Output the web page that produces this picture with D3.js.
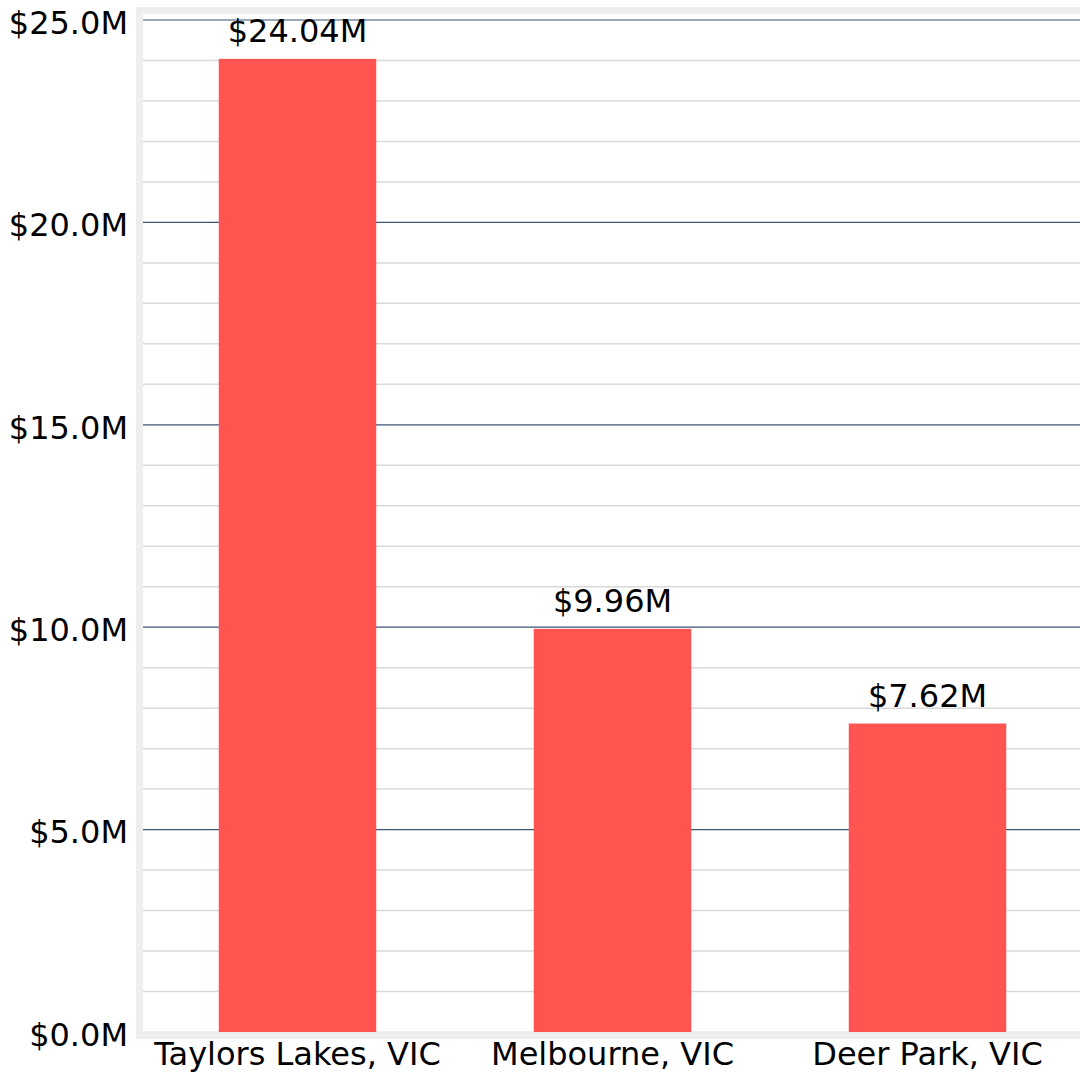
<!DOCTYPE html>
<html>
<head>
<meta charset="utf-8">
<script src="https://cdn.jsdelivr.net/npm/d3@7"></script>
<style>
  body { margin: 0; background: #fff; }
  text { font-family: "DejaVu Sans", sans-serif; fill: #000; }
</style>
</head>
<body>
<svg id="chart"></svg>
<script>
// suburbs and their values (in $M)
const suburbs = ['Taylors Lakes, VIC', 'Melbourne, VIC', 'Deer Park, VIC'];
const values = [24.04, 9.96, 7.62];
const valueLabels = ['$24.04M', '$9.96M', '$7.62M'];
const majorTicks = [0, 5, 10, 15, 20, 25];
const minorTicks = d3.range(0, 26, 1);

const config = {
  width: 1080,
  height: 1079,
  plotLeft: 143,
  plotTop: 14,
  plotBottom: 1032,
  frame: 7,
  fontSize: 32,
};

const svg = d3.select('#chart')
  .attr('width', config.width)
  .attr('height', config.height);

// Scales
const yScale = d3.scaleLinear()
  .domain([0, 25])
  .range([config.plotBottom, 20]);

const xScale = d3.scaleBand()
  .domain(suburbs)
  .range([140, 1085])
  .paddingInner(0.5)
  .paddingOuter(0.25);

// light gray frame around the plot area
svg.append('rect')
  .attr('x', config.plotLeft - config.frame)
  .attr('y', config.plotTop - config.frame)
  .attr('width', config.width - config.plotLeft + config.frame + 10)
  .attr('height', config.plotBottom - config.plotTop + 2 * config.frame)
  .attr('fill', '#eeeeee');

svg.append('rect')
  .attr('x', config.plotLeft)
  .attr('y', config.plotTop)
  .attr('width', config.width - config.plotLeft + 10)
  .attr('height', config.plotBottom - config.plotTop - 1)
  .attr('fill', '#ffffff');

// minor gridlines
svg.append('g')
  .selectAll('line')
  .data(minorTicks.filter((d) => d % 5 !== 0))
  .join('line')
  .attr('x1', config.plotLeft)
  .attr('x2', config.width)
  .attr('y1', (d) => yScale(d))
  .attr('y2', (d) => yScale(d))
  .attr('stroke', '#d9d9d9')
  .attr('stroke-width', 1.5);

// major gridlines
svg.append('g')
  .selectAll('line')
  .data(majorTicks.filter((d) => d > 0))
  .join('line')
  .attr('x1', config.plotLeft)
  .attr('x2', config.width)
  .attr('y1', (d) => yScale(d))
  .attr('y2', (d) => yScale(d))
  .attr('stroke', '#3d5576')
  .attr('stroke-width', 1.2);

// bars
svg.append('g')
  .selectAll('rect')
  .data(values)
  .join('rect')
  .attr('x', (d, i) => xScale(suburbs[i]))
  .attr('width', xScale.bandwidth())
  .attr('y', (d) => yScale(d))
  .attr('height', (d) => yScale(0) - yScale(d))
  .attr('fill', '#ff5450');

// value labels above bars
svg.append('g')
  .selectAll('text')
  .data(values)
  .join('text')
  .attr('x', (d, i) => xScale(suburbs[i]) + xScale.bandwidth() / 2)
  .attr('y', (d) => yScale(d) - 17)
  .attr('text-anchor', 'middle')
  .attr('font-size', config.fontSize)
  .text((d, i) => valueLabels[i]);

// y-axis labels
const yAxis = d3.axisLeft(yScale)
  .tickValues(majorTicks)
  .tickSize(0)
  .tickPadding(0)
  .tickFormat((d) => `$${d.toFixed(1)}M`);

svg.append('g')
  .attr('transform', 'translate(128,3)')
  .call(yAxis)
  .call((g) => g.select('.domain').remove())
  .selectAll('text')
  .attr('font-size', config.fontSize)
  .attr('font-family', '"DejaVu Sans", sans-serif')
  .attr('fill', '#000');

// x-axis labels
const xAxis = d3.axisBottom(xScale)
  .tickSize(0)
  .tickPadding(0);

svg.append('g')
  .attr('transform', 'translate(0,1042)')
  .call(xAxis)
  .call((g) => g.select('.domain').remove())
  .selectAll('text')
  .attr('font-size', config.fontSize)
  .attr('font-family', '"DejaVu Sans", sans-serif')
  .attr('fill', '#000');
</script>
</body>
</html>
